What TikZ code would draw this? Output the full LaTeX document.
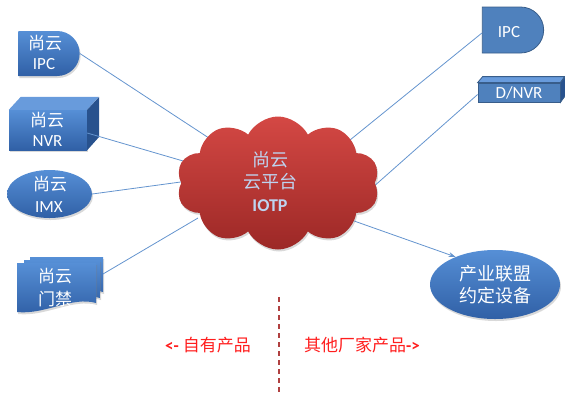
\documentclass[tikz,border=0pt]{standalone}
\usepackage{fontspec}
\setmainfont{Carlito}
\newfontfamily\cjk{Noto Sans CJK SC}
\usetikzlibrary{shapes.geometric,shapes.misc,shapes.symbols,shadows,arrows.meta}
\definecolor{bluetop}{RGB}{86,143,214}
\definecolor{bluebot}{RGB}{48,96,166}
\definecolor{blueflat}{RGB}{79,129,189}
\definecolor{blueedge}{RGB}{56,93,138}
\definecolor{facetop}{RGB}{104,155,220}
\definecolor{faceside}{RGB}{40,82,142}
\definecolor{cloudtop}{RGB}{212,72,68}
\definecolor{cloudbot}{RGB}{156,40,38}
\definecolor{linkblue}{RGB}{100,148,206}
\definecolor{cloudtext}{RGB}{190,212,240}
\definecolor{dashred}{RGB}{176,64,64}
\definecolor{labelred}{RGB}{255,30,30}
\tikzset{
  gradblue/.style={top color=bluetop, bottom color=bluebot, draw=none},
  flatblue/.style={fill=blueflat, draw=blueedge, line width=0.8pt},
  devtext/.style={text=white, font=\fontsize{17}{22}\selectfont, inner sep=0pt},
  cjktext/.style={text=white, font=\cjk\fontsize{17}{22}\selectfont, inner sep=0pt},
  link/.style={draw=linkblue, line width=0.8pt},
  shadowed/.style={drop shadow={opacity=0.3,shadow xshift=1pt,shadow yshift=-2pt}},
  dshape/.style={rounded rectangle, rounded rectangle west arc=none},
  redlabel/.style={text=labelred, font=\fontsize{17}{20}\selectfont, inner sep=0pt},
}
% page of the stacked-documents shape: left x, top y, width, right height, left height
\newcommand\docpage[5]{%
  \path[gradblue, shadowed] (#1,#2) -- ++(#3,0) -- ++(0,#4)
    .. controls +(-0.3*#3,-7) and +(0.35*#3,3) .. (#1,#2+#5) -- cycle;}
\begin{document}
\begin{tikzpicture}[x=1pt,y=-1pt]
\useasboundingbox (0,0) rectangle (565,392);

% ---- left devices ----
\node[dshape, gradblue, shadowed, minimum width=68pt, minimum height=45pt] (ipcL) at (49,53.5) {};
\node[cjktext] (ipcLa) at (45,43) {尚云};
\node[devtext] (ipcLb) at (44,64.5) {IPC};

\node[rectangle, gradblue, shadowed, minimum width=78pt, minimum height=40pt] (nvr) at (48,130) {};
\fill[facetop] (nvr.north west) -- ++(12,-13) -- ++(78,0) -- (nvr.north east) -- cycle;
\fill[faceside] (nvr.north east) -- ++(12,-13) -- ++(0,40) -- (nvr.south east) -- cycle;
\node[cjktext] (nvra) at (47,120) {尚云};
\node[devtext] (nvrb) at (47.5,141) {NVR};

\node[ellipse, gradblue, shadowed, minimum width=85pt, minimum height=48pt] (imx) at (49.5,194) {};
\node[cjktext] (imxa) at (50,184.5) {尚云};
\node[devtext] (imxb) at (49,207.5) {IMX};

\docpage{30}{257}{73}{35}{40}
\docpage{24}{260}{76}{38}{44}
\docpage{17}{263}{79}{40}{49}
\node[cjktext] (doora) at (55,276.5) {尚云};
\node[cjktext] (doorb) at (55,299.5) {门禁};
\coordinate (doorE) at (103,274);

% ---- right devices ----
\node[dshape, flatblue, minimum width=68pt, minimum height=46pt] (ipcR) at (513,30) {};
\node[devtext] (ipcRt) at (509,32) {IPC};

\node[rectangle, flatblue, minimum width=82pt, minimum height=19pt] (dnvr) at (519,92.5) {};
\filldraw[fill=facetop, draw=blueedge, line width=0.8pt] (dnvr.north west) -- ++(5,-6) -- ++(82,0) -- (dnvr.north east) -- cycle;
\filldraw[fill=faceside, draw=blueedge, line width=0.8pt] (dnvr.north east) -- ++(5,-6) -- ++(0,19) -- (dnvr.south east) -- cycle;
\node[devtext] (dnvrt) at (519,93) {D/NVR};

\node[ellipse, gradblue, shadowed, minimum width=130pt, minimum height=69pt, cjktext, align=center, font=\cjk\fontsize{18}{22}\selectfont] (alliance) at (495,284.5) {产业联盟\\约定设备};

% ---- connectors (under the cloud) ----
\coordinate (cL1) at (215,142);
\coordinate (cL2) at (190,163);
\coordinate (cL3) at (188,181);
\coordinate (cL4) at (198,218);
\coordinate (cR1) at (350,140);
\coordinate (cR2) at (372,188);
\coordinate (cR3) at (340,216);
\draw[link] (ipcL.east) -- (cL1);
\draw[link] ([yshift=-3pt]nvr.east) -- (cL2);
\draw[link] (imx.east) -- (cL3);
\draw[link] (doorE) -- (cL4);
\draw[link] ([yshift=-3pt]ipcR.west) -- (cR1);
\draw[link] ([yshift=-2pt]dnvr.west) -- (cR2);
\draw[link, -{Stealth[length=7pt,width=5pt]}] (cR3) -- (alliance.145);

% ---- cloud ----
\node[cloud, cloud puffs=10, cloud puff arc=125, aspect=1.53, top color=cloudtop, bottom color=cloudbot, draw=none, shadowed, minimum width=203pt, minimum height=133pt, inner sep=0pt] (cloud) at (278,183) {};
\node[text=cloudtext, font=\fontsize{18}{22.5}\selectfont, align=center, inner sep=0pt] (cloudtxt) at (270,181) {{\cjk 尚云}\\{\cjk 云平台}\\\textbf{IOTP}};

% ---- divider and labels ----
\coordinate (divtop) at (279,297);
\coordinate (divbot) at (279,392);
\draw[dashred, line width=2pt, dash pattern=on 5pt off 4pt] (divtop) -- (divbot);
\node[redlabel] (own) at (208,345) {\textbf{<-} {\cjk 自有产品}};
\node[redlabel] (other) at (362,345) {{\cjk 其他厂家产品}\textbf{->}};
\end{tikzpicture}
\end{document}
